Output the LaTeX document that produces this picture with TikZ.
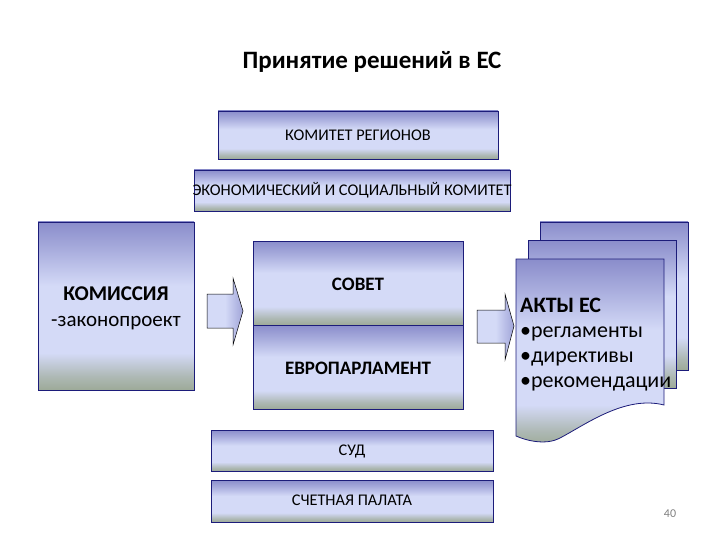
\documentclass[tikz,border=0pt]{standalone}
\usepackage{fontspec}
\setmainfont{Carlito}
\definecolor{btop}{HTML}{8A8DCB}
\definecolor{bmid}{HTML}{D4DAF7}
\definecolor{bbot}{HTML}{9DAA98}
\definecolor{edge}{HTML}{1C1C7A}
\pgfdeclareverticalshading{eushade}{100bp}{color(0bp)=(bbot);color(25bp)=(bbot);color(29bp)=(bbot!70!bmid);color(36bp)=(bmid);color(56bp)=(bmid);color(67bp)=(btop!60!bmid);color(75bp)=(btop);color(100bp)=(btop)}
\pgfdeclarehorizontalshading{arrshade}{100bp}{color(0bp)=(bmid);color(50bp)=(bmid);color(75bp)=(btop!70!bmid);color(100bp)=(btop!70!bmid)}
\begin{document}
\begin{tikzpicture}[x=1pt,y=-1pt,
  box/.style={draw=edge,line width=0.8pt,shading=eushade},
  lbl/.style={font=\fontsize{16.3}{19}\selectfont}]
\useasboundingbox (0,0) rectangle (720,540);
\node[font=\bfseries\fontsize{25}{30}\selectfont] (title) at (372,62) {Принятие решений в ЕС};
% top boxes
\path[box] (218,111) rectangle (498,159);
\node[lbl] (kr) at (358,135) {КОМИТЕТ РЕГИОНОВ};
\path[box] (194,170) rectangle (510,211);
\node[lbl] (ek) at (352,190) {ЭКОНОМИЧЕСКИЙ И СОЦИАЛЬНЫЙ КОМИТЕТ};
% commission
\path[box] (38,222) rectangle (194,390);
\node[align=center,font=\fontsize{21}{26}\selectfont] (kom) at (116,308) {\textbf{КОМИССИЯ}\\-законопроект};
% council / parliament
\path[box] (253,241) rectangle (463,325);
\path[box] (253,325) rectangle (463,409);
\node[font=\bfseries\fontsize{19}{22}\selectfont] (sov) at (358,284) {СОВЕТ};
\node[font=\bfseries\fontsize{19}{22}\selectfont] (ep) at (358,368) {ЕВРОПАРЛАМЕНТ};
% arrows
\path[draw=black,line width=0.5pt,shading=arrshade]
  (207,294) -- (233,294) -- (233,278) -- (243,311) -- (233,345) -- (233,328) -- (207,328) -- cycle;
\path[draw=black,line width=0.5pt,shading=arrshade]
  (477,310) -- (505,310) -- (505,294) -- (514,326) -- (505,360) -- (505,343) -- (477,343) -- cycle;
% documents
\path[box] (540,222) rectangle (688,370);
\path[box] (528,240) rectangle (676,388);
\path[box] (516,259) -- (664,259) -- (664,405) .. controls (625,395) and (585,425) .. (560,438) .. controls (545,446) and (525,440) .. (516,436) -- cycle;
\node[align=left,anchor=west,font=\fontsize{22}{25}\selectfont,inner sep=1pt] (akt) at (519,345) {\textbf{АКТЫ ЕС}\\•регламенты\\•директивы\\•рекомендации};
% court, audit
\path[box] (211,430) rectangle (493,471);
\node[lbl] (sud) at (352,451) {СУД};
\path[box] (211,480) rectangle (493,522);
\node[lbl] (sp) at (352,500) {СЧЕТНАЯ ПАЛАТА};
\node[font=\fontsize{12}{14}\selectfont,text=gray] (num) at (670,514) {40};
\end{tikzpicture}
\end{document}
